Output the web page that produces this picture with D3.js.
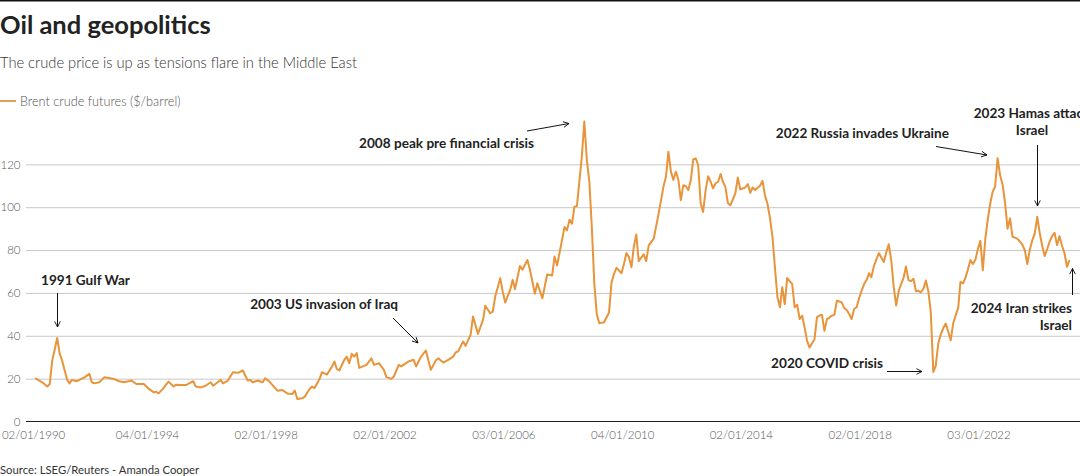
<!DOCTYPE html>
<html>
<head>
<meta charset="utf-8">
<script src="https://cdn.jsdelivr.net/npm/d3@7"></script>
<style>
  html, body { margin: 0; padding: 0; background: #fff; }
  svg { display: block; font-family: Lato, "Open Sans", sans-serif; }
</style>
</head>
<body>
<div id="chart"></div>
<script>
'use strict';

// Brent crude (month, $/barrel)
const months = [
    '1990-01', '1990-04', '1990-06', '1990-07', '1990-08', '1990-10', '1990-11', '1990-12',
    '1991-01', '1991-02', '1991-03', '1991-04', '1991-06', '1991-07', '1991-09', '1991-11', '1991-12',
    '1992-01', '1992-03', '1992-05', '1992-07', '1992-09', '1992-11',
    '1993-01', '1993-04', '1993-06', '1993-09', '1993-11',
    '1994-01', '1994-02', '1994-03', '1994-05', '1994-06', '1994-07', '1994-09', '1994-10', '1994-12',
    '1995-02', '1995-05', '1995-06', '1995-08', '1995-10', '1995-12',
    '1996-01', '1996-04', '1996-05', '1996-07', '1996-09', '1996-11',
    '1997-01', '1997-03', '1997-04', '1997-05', '1997-07', '1997-09', '1997-10', '1997-12',
    '1998-03', '1998-05', '1998-07', '1998-09', '1998-10', '1998-11',
    '1999-01', '1999-02', '1999-04', '1999-05', '1999-06', '1999-08', '1999-09', '1999-11',
    '2000-01', '2000-02', '2000-03', '2000-04', '2000-06', '2000-07', '2000-08', '2000-09', '2000-10', '2000-11', '2000-12',
    '2001-03', '2001-05', '2001-06', '2001-08', '2001-10', '2001-11',
    '2002-01', '2002-02', '2002-04', '2002-05', '2002-07', '2002-08', '2002-10', '2002-11',
    '2003-01', '2003-03', '2003-05', '2003-07', '2003-08', '2003-10', '2003-12',
    '2004-02', '2004-03', '2004-04', '2004-06', '2004-07', '2004-09', '2004-10', '2004-12',
    '2005-02', '2005-03', '2005-05', '2005-06', '2005-07', '2005-09', '2005-10', '2005-11',
    '2006-01', '2006-02', '2006-03', '2006-05', '2006-06', '2006-08', '2006-09', '2006-11', '2006-12',
    '2007-02', '2007-04', '2007-06', '2007-07', '2007-08', '2007-11', '2007-12',
    '2008-01', '2008-02', '2008-03', '2008-04', '2008-06', '2008-07', '2008-08', '2008-09', '2008-10', '2008-11', '2008-12',
    '2009-01', '2009-03', '2009-05', '2009-06', '2009-07', '2009-08', '2009-10', '2009-11', '2009-12',
    '2010-01', '2010-02', '2010-03', '2010-04', '2010-05', '2010-07', '2010-08', '2010-09', '2010-11',
    '2011-01', '2011-03', '2011-04', '2011-05', '2011-06', '2011-07', '2011-08', '2011-09', '2011-10', '2011-11', '2011-12',
    '2012-01', '2012-02', '2012-03', '2012-04', '2012-05', '2012-06', '2012-07', '2012-08', '2012-09', '2012-10', '2012-11', '2012-12',
    '2013-01', '2013-02', '2013-03', '2013-04', '2013-05', '2013-06', '2013-08', '2013-09', '2013-10', '2013-12',
    '2014-01', '2014-02', '2014-03', '2014-04', '2014-06', '2014-07', '2014-08', '2014-09', '2014-10', '2014-11', '2014-12',
    '2015-01', '2015-02', '2015-03', '2015-04', '2015-05', '2015-06', '2015-07', '2015-08', '2015-09', '2015-10', '2015-11', '2015-12',
    '2016-01', '2016-02', '2016-03', '2016-04', '2016-05', '2016-06', '2016-07', '2016-08', '2016-09', '2016-10', '2016-11', '2016-12',
    '2017-01', '2017-02', '2017-03', '2017-04', '2017-05', '2017-06', '2017-07', '2017-08', '2017-09', '2017-10', '2017-11', '2017-12',
    '2018-01', '2018-02', '2018-03', '2018-04', '2018-05', '2018-06', '2018-07', '2018-08', '2018-09', '2018-10', '2018-11', '2018-12',
    '2019-01', '2019-02', '2019-03', '2019-04', '2019-05', '2019-06', '2019-07', '2019-08', '2019-09', '2019-10', '2019-11', '2019-12',
    '2020-01', '2020-02', '2020-03', '2020-04', '2020-05', '2020-06', '2020-07', '2020-08', '2020-09', '2020-10', '2020-11', '2020-12',
    '2021-01', '2021-02', '2021-03', '2021-04', '2021-05', '2021-06', '2021-07', '2021-08', '2021-09', '2021-10', '2021-11', '2021-12',
    '2022-01', '2022-02', '2022-03', '2022-04', '2022-05', '2022-06', '2022-07', '2022-08', '2022-09', '2022-10', '2022-11', '2022-12',
    '2023-01', '2023-02', '2023-03', '2023-04', '2023-05', '2023-06', '2023-07', '2023-08', '2023-09', '2023-10', '2023-11', '2023-12',
    '2024-01', '2024-02', '2024-03', '2024-04', '2024-05', '2024-06', '2024-07', '2024-08', '2024-09', '2024-10', '2024-11'
];

const brentPrices = [
    20.2, 18.3, 16.3, 17.5, 28.4, 39.0, 31.6, 28.4,
    23.8, 19.4, 17.8, 19.4, 18.8, 19.4, 20.6, 22.2, 18.3,
    17.8, 18.3, 20.6, 20.3, 19.8, 18.8,
    18.3, 19.1, 17.5, 17.5, 15.2,
    13.6, 13.9, 13.1, 15.6, 17.2, 18.6, 16.3, 17.2, 17.0,
    17.0, 18.8, 16.3, 15.9, 16.7, 18.3,
    16.7, 19.4, 17.8, 19.1, 23.0, 22.7,
    23.8, 19.1, 19.4, 18.3, 19.1, 18.3, 20.2, 18.3,
    14.4, 14.7, 13.1, 12.8, 14.4, 10.5,
    10.8, 11.6, 15.2, 16.3, 15.6, 19.8, 23.0, 21.9,
    25.6, 28.0, 24.5, 23.8, 28.8, 30.3, 27.2, 31.6, 30.3, 31.9, 25.0,
    26.4, 29.5, 26.4, 27.2, 24.1, 20.7,
    19.9, 21.0, 26.4, 25.7, 27.2, 28.0, 28.8, 25.7,
    30.3, 33.1, 24.1, 28.5, 29.5, 27.5, 28.8,
    30.3, 32.2, 32.7, 37.3, 35.3, 40.4, 49.0, 40.9,
    47.4, 54.0, 50.5, 51.3, 58.3, 66.9, 60.7, 55.5,
    61.4, 66.1, 61.7, 72.6, 70.8, 75.4, 70.8, 59.6, 64.5,
    57.5, 68.6, 68.1, 77.0, 72.8, 90.8, 89.2,
    94.2, 92.3, 100.2, 100.5, 124.0, 140.0, 122.0, 111.9, 90.8, 64.2, 50.2,
    45.8, 46.3, 50.9, 65.0, 68.9, 71.7, 69.2, 73.6, 78.6,
    76.7, 72.0, 81.4, 87.3, 74.8, 78.0, 74.8, 82.2, 85.3,
    97.0, 109.5, 114.2, 125.9, 116.6, 112.7, 116.6, 112.7, 103.3, 110.3, 109.8,
    108.0, 112.7, 122.3, 122.8, 119.7, 101.7, 97.8, 108.0, 114.5, 111.9, 108.8, 111.1,
    111.9, 115.5, 111.9, 109.5, 102.0, 100.9, 106.4, 113.9, 108.3, 109.2,
    110.8, 106.7, 109.2, 108.0, 110.0, 112.3, 105.5, 101.5, 95.0, 86.0, 72.0,
    58.0, 53.3, 62.7, 54.8, 67.0, 65.5, 64.2, 53.3, 54.5, 47.8, 49.4, 43.9,
    37.5, 34.5, 36.5, 38.4, 48.6, 49.5, 49.8, 42.3, 47.8, 48.5, 49.4, 49.8,
    56.4, 56.0, 55.6, 53.0, 52.0, 50.2, 47.8, 52.5, 53.3, 57.5, 61.0, 64.0,
    66.0, 69.2, 67.3, 72.5, 75.5, 78.6, 76.5, 74.4, 79.0, 82.7, 75.2, 62.7,
    54.1, 61.0, 64.0, 67.0, 72.3, 66.0, 65.5, 66.6, 60.8, 61.0, 60.3, 61.9,
    65.8, 60.5, 51.0, 23.1, 26.0, 36.4, 40.5, 43.5, 45.7, 42.0, 37.9, 45.7,
    49.5, 53.0, 65.2, 64.4, 67.0, 71.0, 75.3, 73.5, 75.5, 80.5, 84.3, 70.6,
    85.4, 94.5, 101.5, 107.2, 109.6, 122.8, 115.0, 110.5, 102.0, 90.0, 94.8, 86.2,
    85.8, 85.2, 84.0, 82.5, 80.0, 73.5, 80.0, 84.5, 87.8, 95.5, 88.0, 82.0,
    77.2, 80.5, 83.9, 86.5, 88.1, 82.3, 86.5, 82.0, 78.5, 72.2, 75.3
];

const xTickDates = ['1990-01-02', '1994-01-04', '1998-01-02', '2002-01-02', '2006-01-03',
                    '2010-01-04', '2014-01-02', '2018-01-02', '2022-01-03'];
const yTicks = [0, 20, 40, 60, 80, 100, 120];
const seriesName = 'Brent crude futures ($/barrel)';

// annotations: text lines + arrow, laid out in pixels
const annotations = [
    { lines: ['1991 Gulf War'], x: 41, y: 285, anchor: 'start', arrow: [57.5, 293, 57.5, 327] },
    { lines: ['2003 US invasion of Iraq'], x: 398, y: 309, anchor: 'end', arrow: [393, 318, 418, 343] },
    { lines: ['2008 peak pre financial crisis'], x: 534, y: 148, anchor: 'end', arrow: [527, 131, 569, 123.5] },
    { lines: ['2022 Russia invades Ukraine'], x: 949, y: 138, anchor: 'end', arrow: [936, 146.5, 987, 155] },
    { lines: ['2023 Hamas attack', 'Israel'], x: 1032, y: 118, anchor: 'middle', arrow: [1037.5, 145, 1037.5, 206] },
    { lines: ['2024 Iran strikes', 'Israel'], x: 1072, y: 313, anchor: 'end', arrow: [1072.5, 295, 1072.5, 268.5] },
    { lines: ['2020 COVID crisis'], x: 883, y: 368, anchor: 'end', arrow: [887, 371.5, 922, 371.5] }
];

const lineChart = function() {

    const width = 1080;
    const height = 476;
    const lineColor = '#e8943a';
    const margin = { left: 26, right: 0, top: 121.5, bottom: 54.5 };

    const chart = function(selection) {

        const svg = selection.append('svg').attr('width', width).attr('height', height);

        const parseMonth = d3.timeParse('%Y-%m');
        const parseDay = d3.timeParse('%Y-%m-%d');
        const fmt = d3.timeFormat('%d/%m/%Y');

        const data = months.map((m, i) => ({ date: parseMonth(m), value: brentPrices[i] }));

        const x = d3.scaleTime()
            .domain([parseMonth('1990-01'), parseMonth('2024-11')])
            .range([35, 1069.5]);
        const y = d3.scaleLinear()
            .domain([0, 140])
            .range([height - margin.bottom, margin.top]);

        svg.append('rect').attr('x', 0).attr('y', 0).attr('width', width).attr('height', 1.5).attr('fill', '#111');

        // titles
        svg.append('text').attr('x', 0).attr('y', 34)
            .style('font-size', '25.5px').style('font-weight', 700).attr('fill', '#222')
            .text('Oil and geopolitics');
        svg.append('text').attr('x', 0).attr('y', 68)
            .style('font-size', '14.7px').style('font-weight', 300).attr('fill', '#333')
            .text('The crude price is up as tensions flare in the Middle East');

        // legend
        svg.append('line').attr('x1', 0).attr('x2', 16).attr('y1', 101).attr('y2', 101)
            .attr('stroke', '#d9a255').attr('stroke-width', 2);
        svg.append('text').attr('x', 20).attr('y', 105.5)
            .style('font-size', '12.7px').style('font-weight', 300).attr('fill', '#555')
            .text(seriesName);

        // grid
        const grid = svg.append('g').attr('class', 'grid')
            .attr('transform', `translate(${margin.left},0)`)
            .call(d3.axisRight(y).tickValues(yTicks.filter(d => d > 0)).tickSize(width - margin.left).tickFormat(''));
        grid.select('.domain').remove();
        grid.selectAll('line').attr('stroke', '#c8c8c8').attr('stroke-width', 1);

        // y axis labels
        const yAxis = svg.append('g').attr('transform', `translate(${margin.left},0)`)
            .call(d3.axisLeft(y).tickValues(yTicks).tickSize(0).tickPadding(5.5));
        yAxis.select('.domain').remove();
        yAxis.selectAll('text').style('font-size', '11.5px').style('font-weight', 300)
            .style('font-family', 'Lato, sans-serif').attr('fill', '#555');

        // x axis
        const xAxis = svg.append('g').attr('transform', `translate(0,${y(0)})`)
            .call(d3.axisBottom(x).tickValues(xTickDates.map(parseDay)).tickFormat(fmt).tickSize(0).tickPadding(9));
        xAxis.select('.domain').remove();
        xAxis.selectAll('text').attr('dx', (d, i) => i === 0 ? -2 : -7)
            .style('font-size', '11.5px').style('font-weight', 300)
            .style('font-family', 'Lato, sans-serif').attr('fill', '#555');

        svg.append('line').attr('x1', margin.left).attr('x2', width)
            .attr('y1', y(0)).attr('y2', y(0)).attr('stroke', '#222').attr('stroke-width', 1.2);

        // the series
        const line = d3.line().x(d => x(d.date)).y(d => y(d.value));
        svg.append('path').datum(data)
            .attr('fill', 'none')
            .attr('stroke', lineColor)
            .attr('stroke-width', 2)
            .attr('stroke-linejoin', 'round')
            .attr('d', line);

        // annotations
        svg.append('defs').append('marker')
            .attr('id', 'arrowhead')
            .attr('viewBox', '0 0 10 10')
            .attr('refX', 9).attr('refY', 5)
            .attr('markerWidth', 7).attr('markerHeight', 7)
            .attr('markerUnits', 'userSpaceOnUse')
            .attr('orient', 'auto')
            .append('path').attr('d', 'M1,1 L9,5 L1,9')
            .attr('fill', 'none').attr('stroke', '#111').attr('stroke-width', 1.3);

        const ann = svg.append('g').attr('class', 'annotations');
        annotations.forEach(a => {
            const t = ann.append('text')
                .attr('text-anchor', a.anchor)
                .style('font-size', '13.6px').style('font-weight', 700).attr('fill', '#222');
            a.lines.forEach((l, i) => {
                t.append('tspan').attr('x', a.x).attr('y', a.y + i * 17).text(l);
            });
            ann.append('line')
                .attr('x1', a.arrow[0]).attr('y1', a.arrow[1])
                .attr('x2', a.arrow[2]).attr('y2', a.arrow[3])
                .attr('stroke', '#111').attr('stroke-width', 1)
                .attr('marker-end', 'url(#arrowhead)');
        });

        // source
        svg.append('text').attr('x', 0).attr('y', 474)
            .style('font-size', '11.3px').attr('fill', '#333')
            .text('Source: LSEG/Reuters - Amanda Cooper');
    };

    return chart;
};

if (months.length !== brentPrices.length) console.error('length mismatch', months.length, brentPrices.length);
d3.select('#chart').call(lineChart());
</script>
</body>
</html>
